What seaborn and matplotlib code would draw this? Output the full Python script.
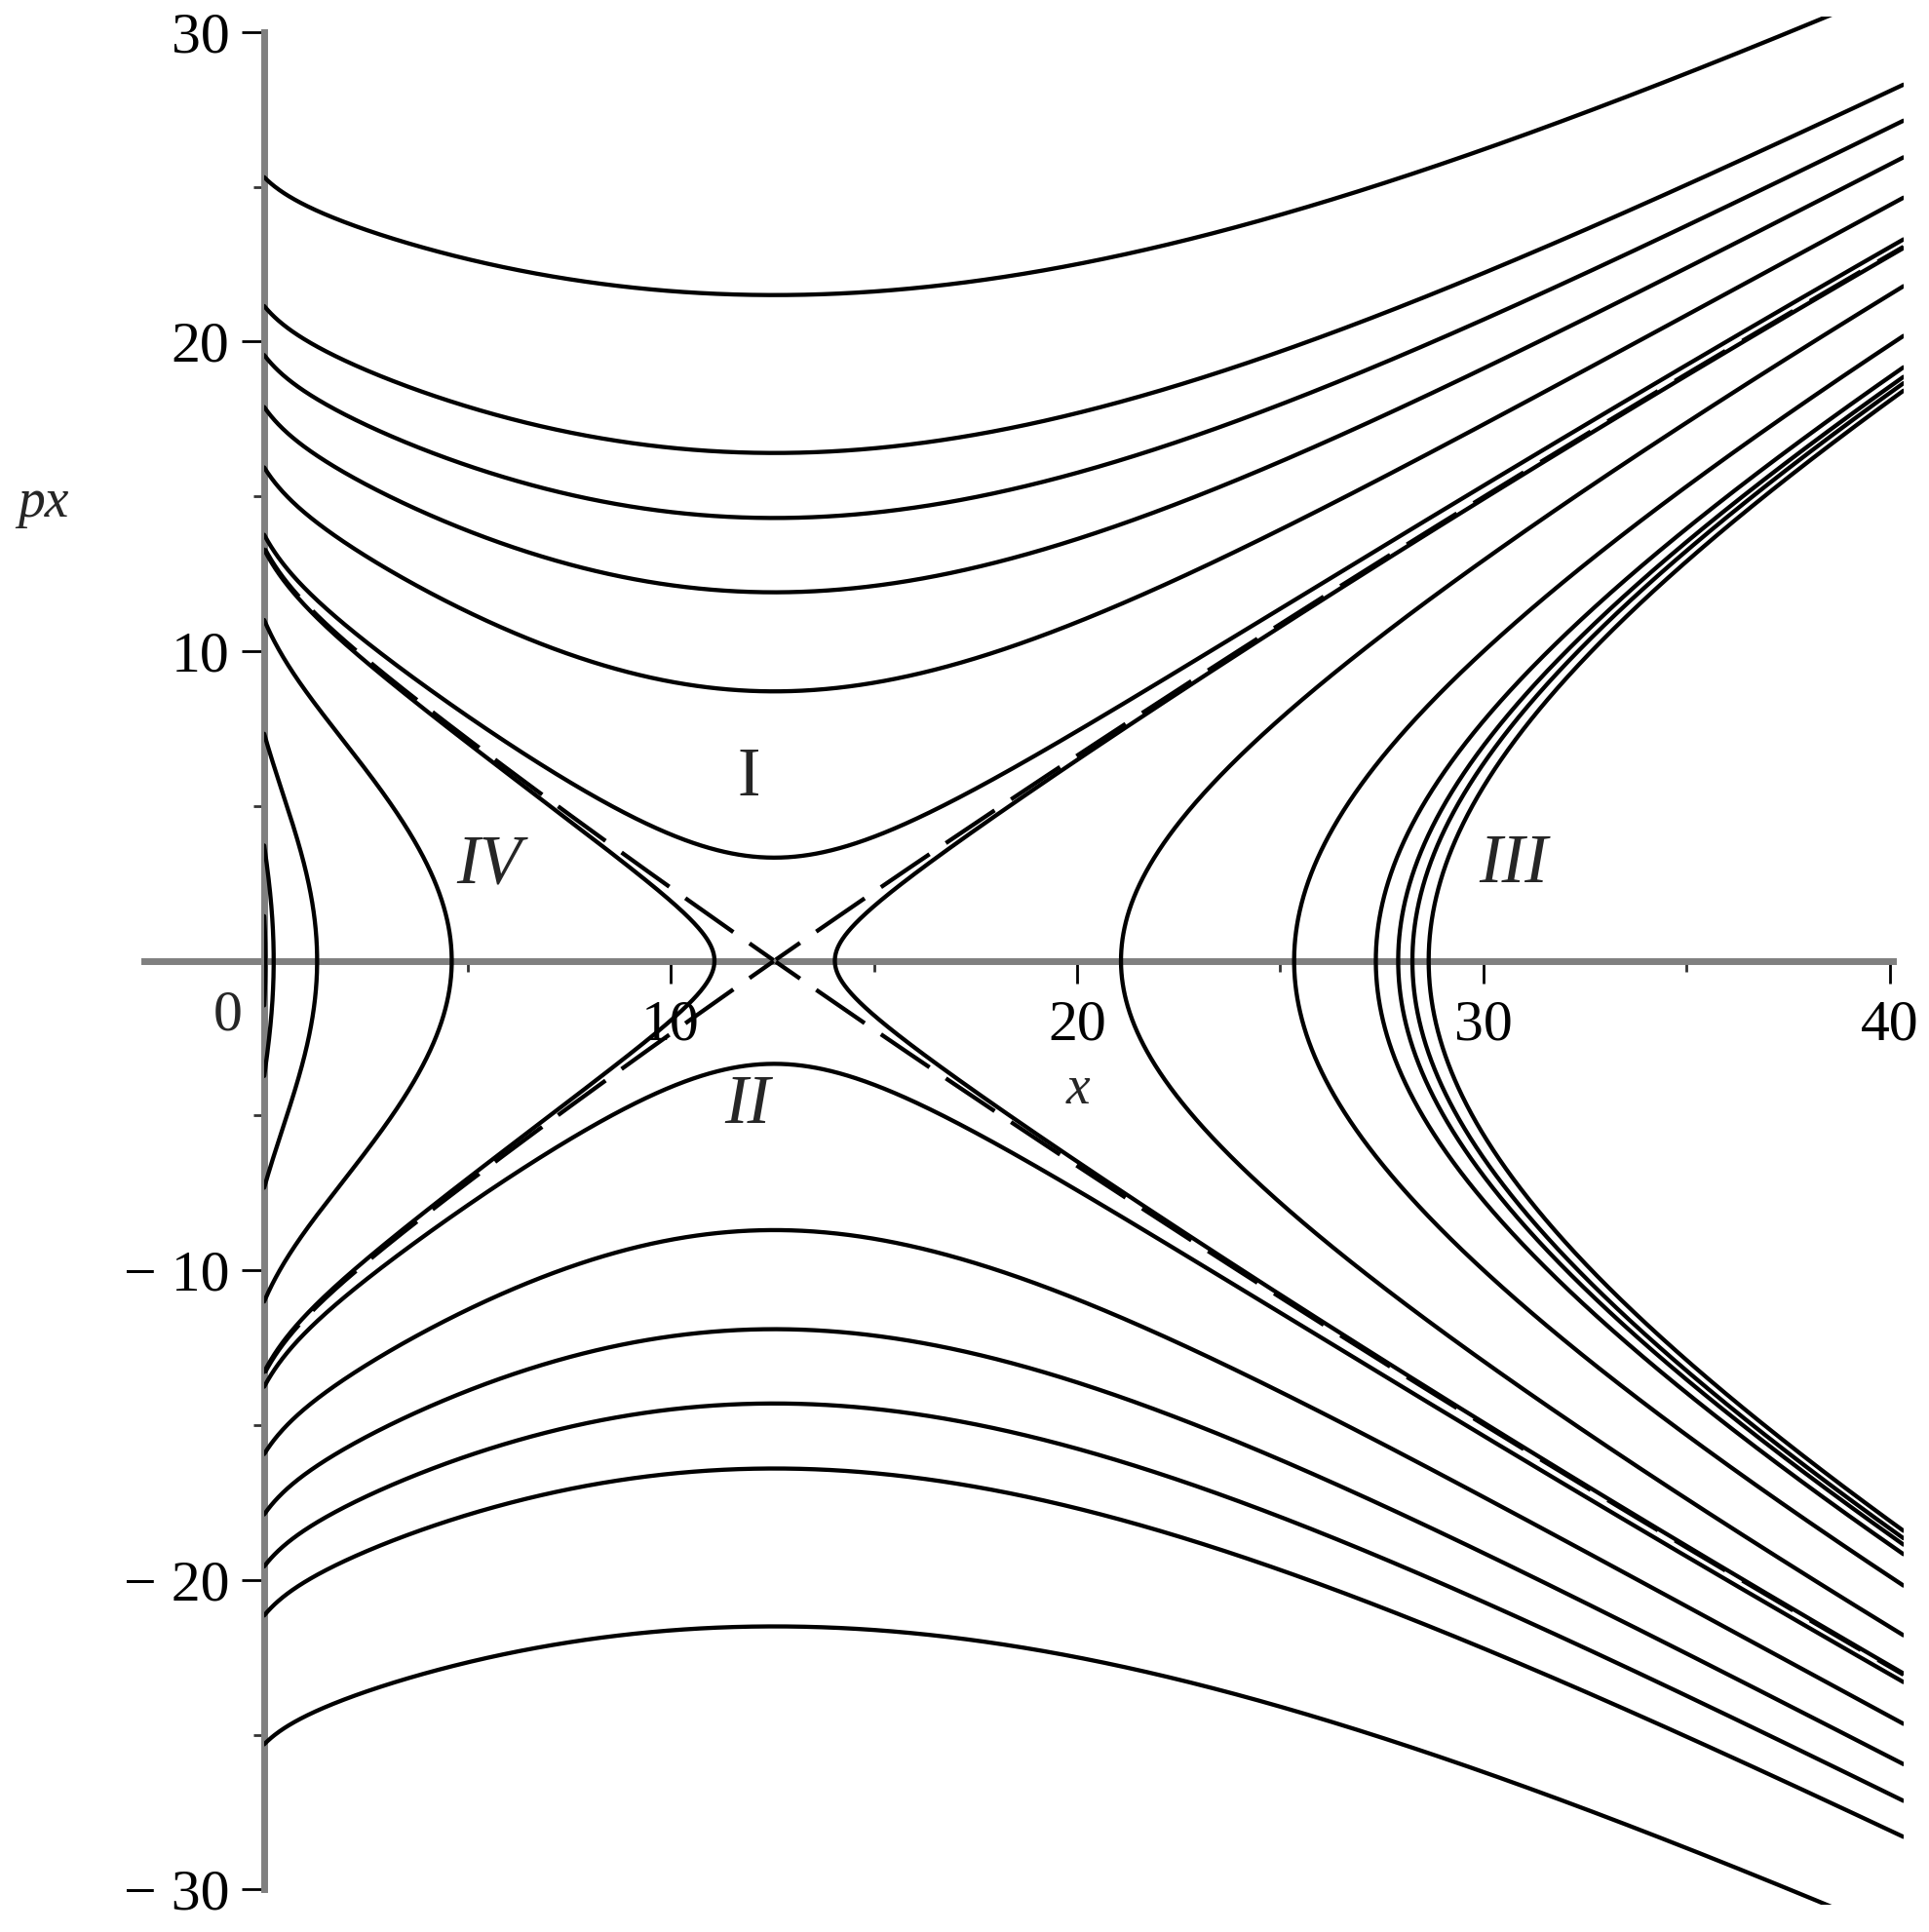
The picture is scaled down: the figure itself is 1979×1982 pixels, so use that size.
import numpy as np
import pandas as pd
import matplotlib

matplotlib.use("Agg")

import matplotlib.pyplot as plt
import seaborn as sns
from matplotlib.patches import Rectangle

# saddle point and the window the orbits were drawn in
saddle_x = 12.55
x_end = 40.33
px_clip = 30.5

# px where the open orbits (regions I and II) cross x = saddle_x
saddle_px = [3.33, 8.7, 11.9, 14.3, 16.4, 21.5]
# x where the orbits of regions III / IV turn on the right of the saddle
turning_x = [14.04, 21.08, 25.34, 27.35, 27.9, 28.25, 28.65]

# shape of the potential, matched by eye to the crossings on x = 0 and x = 40
curv, skew = 0.83, 0.0075
wall_h, wall_s, wall_p = 35.4, 1.5, 1.84

x_ticks = [10, 20, 30, 40]
x_minor = [5, 15, 25, 35]
y_ticks = [-30, -20, -10, 10, 20, 30]
y_tick_labels = ["\u2212 30", "\u2212 20", "\u2212 10", "10", "20", "30"]
y_minor = [-25, -15, -5, 5, 15, 25]

region_names = ["I", "II", "III", "IV"]
region_x = [11.92, 11.9, 30.74, 5.54]
region_px = [5.88, -4.7, 3.08, 3.08]
region_style = ["normal", "italic", "italic", "italic"]


def potential(x):
    d = x - saddle_x
    wall = wall_h * (1 + x / wall_s) ** -wall_p
    wall_c = wall_h * (1 + saddle_x / wall_s) ** -wall_p
    slope_c = -wall_p * wall_c / (wall_s + saddle_x)
    return curv * d**2 / (1 + skew * d) + wall - wall_c - slope_c * d


def turning_point(level, lo, hi):
    f_lo = potential(lo) - level
    for _ in range(60):
        mid = 0.5 * (lo + hi)
        f_mid = potential(mid) - level
        if np.sign(f_mid) == np.sign(f_lo):
            lo, f_lo = mid, f_mid
        else:
            hi = mid
    return 0.5 * (lo + hi)


def curve_frame(name, xs, ps):
    return pd.DataFrame({"x": xs, "px": ps, "curve": name})


t = np.linspace(0, 1, 700)
x_open = np.linspace(0, x_end, 1400)
pieces = []

for i, p0 in enumerate(saddle_px):
    p = np.sqrt(p0**2 + potential(x_open))
    pieces.append(curve_frame(f"open{i}+", x_open, p))
    pieces.append(curve_frame(f"open{i}-", x_open, -p))

for i, xr in enumerate(turning_x):
    level = potential(xr)
    xs = xr + (x_end - xr) * t**2
    p = np.sqrt(np.clip(potential(xs) - level, 0, None))
    pieces.append(curve_frame(f"right{i}", np.r_[xs[::-1], xs], np.r_[p[::-1], -p]))
    if potential(0.0) > level:
        xl = turning_point(level, 0.0, saddle_x)
        xs = xl - xl * t**2
        p = np.sqrt(np.clip(potential(xs) - level, 0, None))
        pieces.append(curve_frame(f"left{i}", np.r_[xs[::-1], xs], np.r_[p[::-1], -p]))

orbits = pd.concat(pieces, ignore_index=True)

sep_pieces = []
for side, x_stop in [("r", x_end), ("l", 0.0)]:
    xs = saddle_x + (x_stop - saddle_x) * t
    p = np.sqrt(potential(xs))
    sep_pieces.append(curve_frame(f"sep{side}+", xs, p))
    sep_pieces.append(curve_frame(f"sep{side}-", xs, -p))
separatrix = pd.concat(sep_pieces, ignore_index=True)

sns.set_style("white")
plt.rcParams["font.family"] = ["Liberation Serif", "DejaVu Serif"]

fig = plt.figure(figsize=(19.79, 19.82), dpi=100)
ax = fig.add_axes([0, 0, 1, 1])

sns.lineplot(data=orbits, x="x", y="px", units="curve", estimator=None,
             sort=False, color="black", lw=3.1, ax=ax, legend=False)
n_solid = len(ax.lines)
sns.lineplot(data=separatrix, x="x", y="px", units="curve", estimator=None,
             sort=False, color="black", lw=3.1, ax=ax, legend=False)
for line in ax.lines[n_solid:]:
    line.set_linestyle((7, (14, 4.7)))

clip = Rectangle((0, -px_clip), x_end, 2 * px_clip, transform=ax.transData)
for line in ax.lines:
    line.set_clip_path(clip)
    line.set_zorder(3)

ax.set_xlim(-6.5, 40.96)
ax.set_ylim(-31.37, 31.03)

for side in ["top", "right"]:
    ax.spines[side].set_visible(False)
ax.spines["left"].set_position(("data", 0))
ax.spines["bottom"].set_position(("data", 0))
ax.spines["left"].set_bounds(-30, 30)
ax.spines["bottom"].set_bounds(-2.95, 40.07)
for side in ["left", "bottom"]:
    ax.spines[side].set_color("#808080")
    ax.spines[side].set_linewidth(5)
    ax.spines[side].set_zorder(2)

ax.set_xticks(x_ticks)
ax.set_xticks(x_minor, minor=True)
ax.set_yticks(y_ticks, labels=y_tick_labels)
ax.set_yticks(y_minor, minor=True)
ax.tick_params(which="both", bottom=True, left=True, top=False, right=False)
ax.tick_params(which="major", direction="out", length=16.5, width=2,
               color="black", labelsize=43, labelcolor="black")
ax.tick_params(which="minor", direction="out", length=8, width=2, color="#333333")
ax.tick_params(axis="x", which="major", pad=12)
ax.tick_params(axis="y", which="major", pad=9)

ax.annotate("0", xy=(0, 0), xytext=(-26.6, -41), textcoords="offset points",
            ha="center", va="center", fontsize=43)

ax.set_xlabel("x", fontsize=40, style="italic", va="center")
ax.xaxis.set_label_coords(20.02, -4.18, transform=ax.transData)
ax.set_ylabel("px", fontsize=40, style="italic", rotation=0, va="center", ha="center")
ax.yaxis.set_label_coords(-5.44, 14.78, transform=ax.transData)

for name, rx, ry, st in zip(region_names, region_x, region_px, region_style):
    ax.text(rx, ry, name, fontsize=51, style=st, ha="center", va="center")

fig.savefig("out.png", dpi=100)
